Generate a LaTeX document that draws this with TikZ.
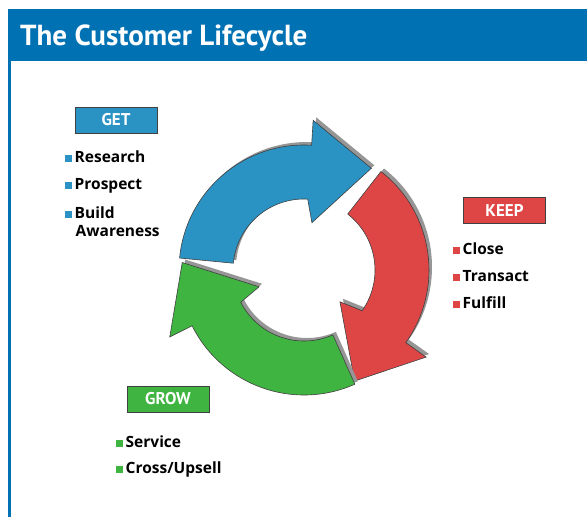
\documentclass[tikz,border=0pt]{standalone}
\usepackage{fontspec}
\setmainfont{PT Sans}
\newfontfamily\itemfont{Open Sans}
\definecolor{hdrblue}{RGB}{0,113,179}
\definecolor{getc}{RGB}{42,147,196}
\definecolor{keepc}{RGB}{222,70,70}
\definecolor{growc}{RGB}{64,180,64}
\definecolor{shadowc}{RGB}{150,150,150}
\newcommand\cycarrow[3]{%
  \fill[shadowc, shift={(3,3)}] (#2:125) arc[start angle=#2, end angle=#1, radius=125]
    -- (#1:150) -- ({#1-30}:122) -- ({#1-6}:48) -- ({#1+0.5}:71)
    arc[start angle=#1+0.5, end angle=#2, radius=71] -- cycle;
  \filldraw[fill=#3, draw=black!75, line width=0.6pt] (#2:125) arc[start angle=#2, end angle=#1, radius=125]
    -- (#1:150) -- ({#1-30}:122) -- ({#1-6}:48) -- ({#1+0.5}:71)
    arc[start angle=#1+0.5, end angle=#2, radius=71] -- cycle;
}
\newcommand\bsq[1]{\textcolor{#1}{\rule[0.5pt]{6.5pt}{6.5pt}}\hspace{3pt}}
\begin{document}
\begin{tikzpicture}[x=1pt,y=1pt,
  tag/.style={draw=black!75, line width=0.8pt, minimum width=82pt, minimum height=26pt,
    inner sep=0pt, text=white, font=\fontsize{17}{17}\selectfont\bfseries},
  item/.style={anchor=base west, inner sep=0pt, text=black,
    font=\itemfont\fontsize{15.5}{18}\selectfont\bfseries, align=left}]
\useasboundingbox (0,0) rectangle (587,-517);
\fill[white] (0,0) rectangle (587,-517);
% header and frame
\fill[hdrblue] (8,-9) rectangle (587,-61);
\draw[hdrblue, line width=2.5pt] (9.25,-61) -- (9.25,-517);
\node[anchor=base west, inner sep=0pt, text=white, font=\fontsize{29}{29}\selectfont\bfseries] (title) at (20,-45) {The Customer Lifecycle};
% cycle arrows
\begin{scope}[shift={(304,-270)}]
  \cycarrow{86.5}{174.5}{getc}
  \cycarrow{-35.5}{52}{keepc}
  \cycarrow{-153.5}{-66}{growc}
\end{scope}
% GET
\node[tag, fill=getc] (get) at (116,-120) {GET};
\node[item] (g1) at (65,-162) {\bsq{getc}Research};
\node[item] (g2) at (65,-189) {\bsq{getc}Prospect};
\node[item] (g3) at (65,-218) {\bsq{getc}Build};
\node[item] (g4) at (75.5,-236) {Awareness};
% KEEP
\node[tag, fill=keepc] (keep) at (504.5,-210.5) {KEEP};
\node[item] (k1) at (453,-254) {\bsq{keepc}Close};
\node[item] (k2) at (453,-281) {\bsq{keepc}Transact};
\node[item] (k3) at (453,-308) {\bsq{keepc}Fulfill};
% GROW
\node[tag, fill=growc] (grow) at (168,-399) {GROW};
\node[item] (r1) at (116,-447) {\bsq{growc}Service};
\node[item] (r2) at (116,-473) {\bsq{growc}Cross/Upsell};
\end{tikzpicture}
\end{document}
